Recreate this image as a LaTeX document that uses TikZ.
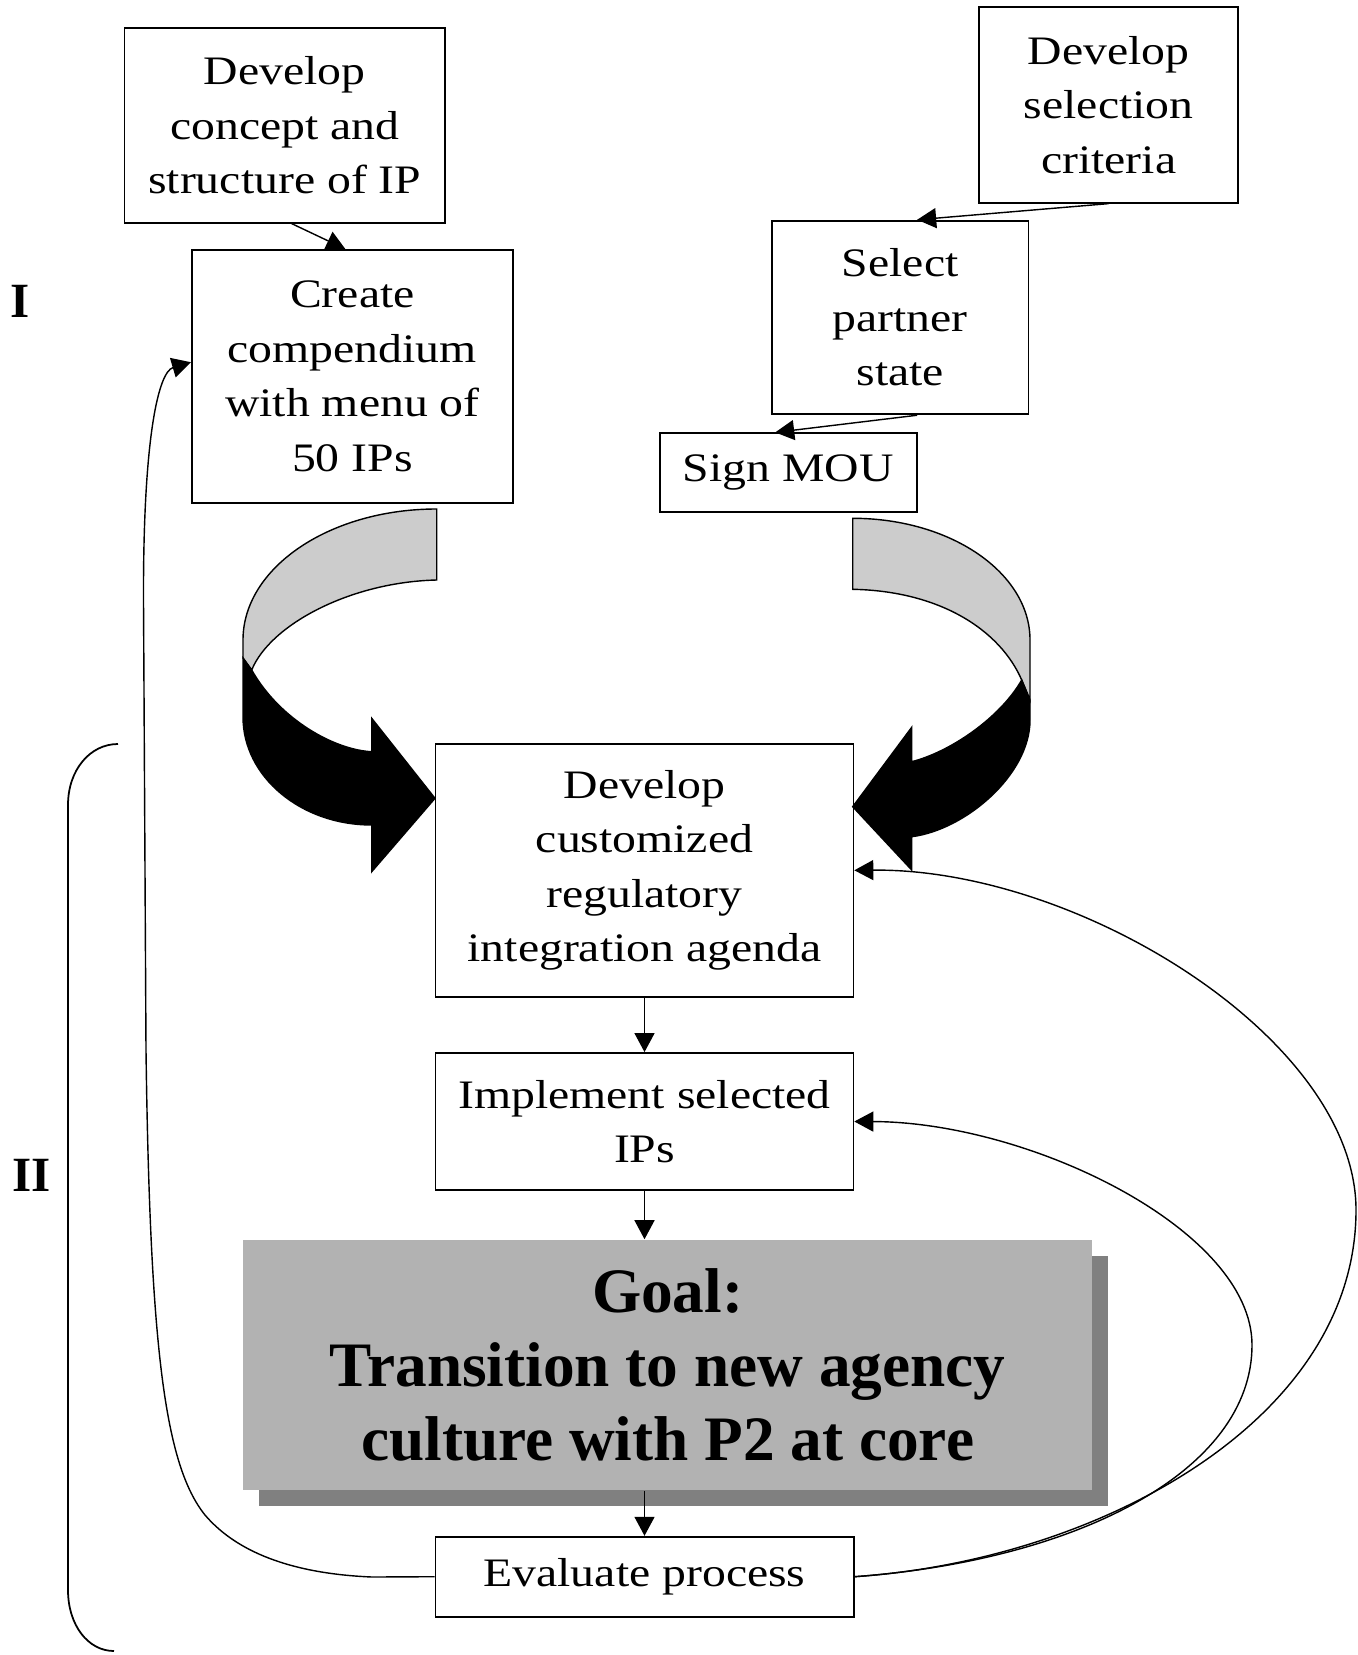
\documentclass[tikz,border=0pt]{standalone}
\usepackage{fontspec}
\setmainfont{Liberation Serif}
\newfontfamily\boxfont{Liberation Serif}[FakeStretch=1.18]
\usepackage{tikz}
\usetikzlibrary{arrows.meta,calc,shadows}
\definecolor{goalgray}{RGB}{178,178,178}
\definecolor{shadegray}{RGB}{128,128,128}
\definecolor{ribbongray}{RGB}{204,204,204}
\tikzset{
    stepbox/.style={draw, line width=0.5pt, align=center, inner sep=0pt, font=\boxfont\fontsize{11.5}{15.5}\selectfont},
    goalbox/.style={fill=goalgray, align=center, inner sep=0pt, font=\bfseries\fontsize{18}{21}\selectfont,
        general shadow={fill=shadegray, shadow xshift=0.16cm, shadow yshift=-0.16cm}},
    flowarrow/.style={-{Triangle[length=0.19cm, width=0.2cm]}, line width=0.4pt},
    ribbonback/.style={fill=ribbongray, draw, line width=0.4pt},
    ribbonfront/.style={fill=black, draw, line width=0.4pt},
    phaselabel/.style={font=\bfseries\fontsize{14}{16}\selectfont},
    phasebrace/.style={line width=0.5pt}
}

\begin{document}
\begin{tikzpicture}[x=0.01cm, y=-0.01cm]
    \useasboundingbox (0,0) rectangle (1357,1655);

    \node[stepbox, minimum width=3.205cm, minimum height=1.95cm] (concept) at (284.75,125.2) {Develop\\concept and\\structure of IP};
    \node[stepbox, minimum width=3.207cm, minimum height=2.527cm] (comp) at (352.35,376.35) {Create\\compendium\\with menu of\\50 IPs};
    \node[stepbox, minimum width=2.587cm, minimum height=1.954cm] (crit) at (1108.65,105) {Develop\\selection\\criteria};
    \node[stepbox, minimum width=2.563cm, minimum height=1.936cm] (sel) at (900.15,317.5) {Select\\partner\\state};
    \node[stepbox, minimum width=2.57cm, minimum height=0.784cm] (mou) at (788.2,472.5) {Sign MOU};
    \node[stepbox, minimum width=4.176cm, minimum height=2.527cm] (dev) at (644.5,870.3) {Develop\\customized\\regulatory\\integration agenda};
    \node[stepbox, minimum width=4.176cm, minimum height=1.37cm] (impl) at (644.5,1121.5) {Implement selected\\IPs};
    \node[goalbox, minimum width=8.478cm, minimum height=2.5cm] (goal) at (667.6,1365) {Goal:\\Transition to new agency\\culture with P2 at core};
    \node[stepbox, minimum width=4.18cm, minimum height=0.8cm] (eval) at (644.5,1576.7) {Evaluate process};

    \node[phaselabel] (phaseone) at (20,301.5) {I};
    \node[phaselabel] (phasetwo) at (32,1175) {II};

    \draw[ribbonback] (436.7,509) .. controls (329.6,509) and (243,567.7) .. (243,640) -- (243,658) -- (251.7,670) .. controls (270,625) and (350,582) .. (436.7,580) -- cycle;
    \draw[ribbonfront] (243,658) -- (243,717) .. controls (243,776.6) and (300.7,825) .. (371.7,825) -- (371.7,871.7) -- (435,798.3) -- (371.7,718.3) -- (371.7,751.7) .. controls (335,750) and (280,720) .. (251.7,670) -- cycle;
    \draw[ribbonback] (852.7,518.3) .. controls (950.6,518.3) and (1030,572.8) .. (1030,640) -- (1030,700) -- (1021.7,680) .. controls (1000,630) and (940,591) .. (852.7,589.3) -- cycle;
    \draw[ribbonfront] (1030,700) -- (1030,720) .. controls (1030,775) and (965,830) .. (911.7,836.7) -- (911.7,870) -- (852.7,806.7) -- (911.7,727.3) -- (911.7,761.7) .. controls (950,752) and (1000,718) .. (1021.7,680) -- cycle;

    \draw[flowarrow] ($(concept.south)+(7,0)$) -- ($(comp.north)+(-7,0)$);
    \draw[flowarrow] (crit.south) -- ($(sel.north)+(17,0)$);
    \draw[flowarrow] ($(sel.south)+(17,0)$) -- ($(mou.north)+(-13,0)$);
    \draw[flowarrow] (dev.south) -- (impl.north);
    \draw[flowarrow] (impl.south) -- (impl.south |- goal.north);
    \draw[flowarrow] (eval.north |- goal.south) -- (eval.north);

    \draw[flowarrow] (eval.west) -- (372,1577) .. controls (300,1574) and (240,1556) .. (205,1515)
        .. controls (165,1465) and (150,1350) .. (146,1050) -- (143.5,600)
        .. controls (143,440) and (158,372) .. (comp.175);
    \draw[flowarrow] (eval.east) .. controls (1100,1560) and (1356,1420) .. (1356,1210)
        .. controls (1356,1040) and (1080,868) .. (dev.east);
    \draw[flowarrow] (eval.east) .. controls (1080,1560) and (1252,1470) .. (1252,1345)
        .. controls (1252,1230) and (1030,1122) .. (impl.east);

    \draw[phasebrace] (118,744) .. controls (90,744) and (68,770) .. (68,805) -- (68,1590) .. controls (68,1625) and (88,1651) .. (114,1651);
\end{tikzpicture}
\end{document}
